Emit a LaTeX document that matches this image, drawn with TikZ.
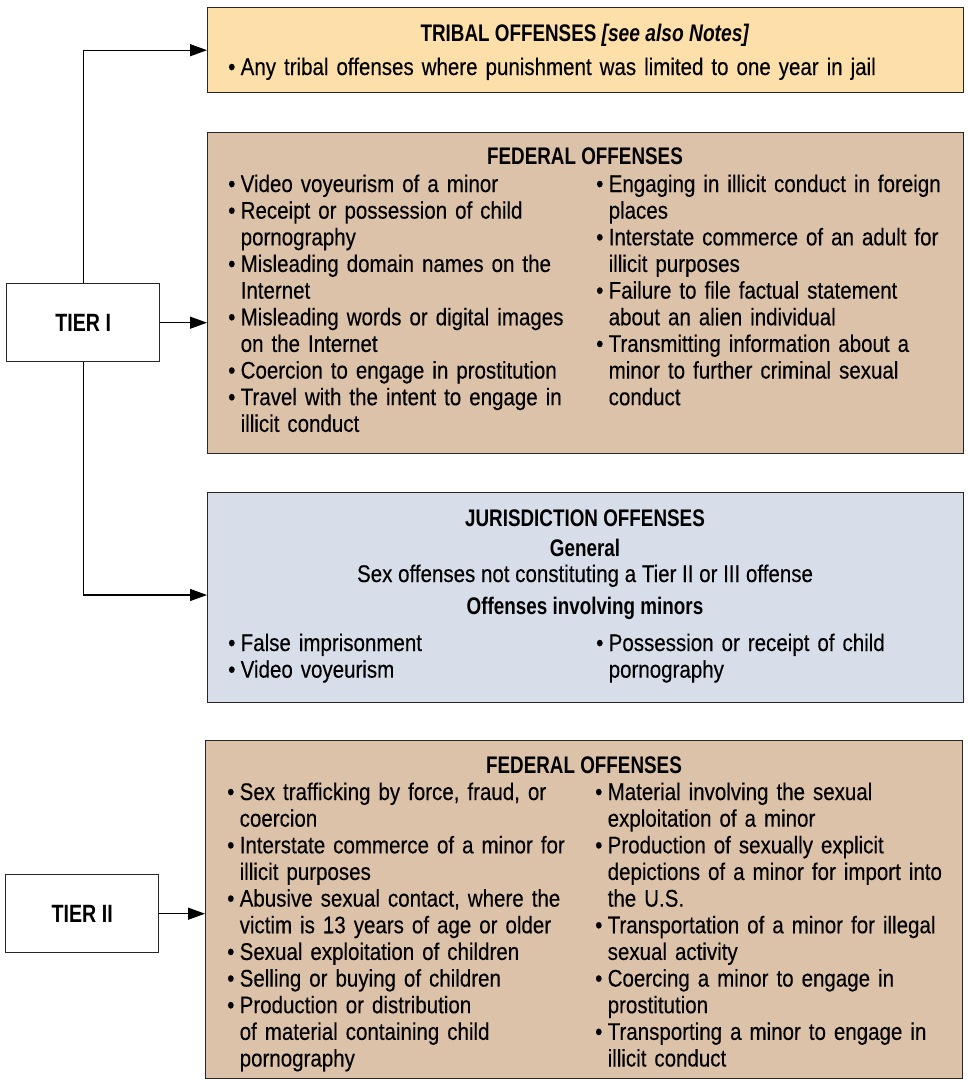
\documentclass[tikz,border=0pt]{standalone}
\usepackage{fontspec}
\setmainfont{Liberation Sans}[FakeStretch=0.855,
  UprightFeatures={FakeBold=0.25},
  BoldFeatures={FakeStretch=0.785},
  BoldItalicFeatures={FakeStretch=0.80}]
\usetikzlibrary{arrows.meta}
\definecolor{tribalfill}{HTML}{FDDFAA}
\definecolor{fedfill}{HTML}{DCC2A8}
\definecolor{jurfill}{HTML}{D8DDEA}
\definecolor{edgecol}{HTML}{262626}
\newcommand{\bodyfont}{\fontsize{24}{26.65}\selectfont}
\newcommand{\bl}{\makebox[12.5pt][l]{\textbullet}}
\newcommand{\ci}{\hspace*{12.5pt}}
\begin{document}
\begin{tikzpicture}[x=1pt,y=-1pt,
  panel/.style={draw=edgecol, line width=1.4pt, anchor=north west, inner sep=0pt},
  tierbox/.style={panel, fill=white, font=\fontsize{25}{28}\selectfont\bfseries},
  col/.style={anchor=base west, inner sep=0pt, text width=#1, align=left, font=\bodyfont},
  head/.style={anchor=base, inner sep=0pt, font=\bodyfont\bfseries},
  sub/.style={anchor=base, inner sep=0pt, font=\bodyfont},
  link/.style={line width=1.2pt, draw=black, -{Triangle[length=17pt,width=12pt]}},
]
\useasboundingbox (0,0) rectangle (968,1082);

% panels
\node[panel, fill=tribalfill, minimum width=756pt, minimum height=85pt] (tribal) at (207,7) {};
\node[panel, fill=fedfill, minimum width=756pt, minimum height=321pt] (fed1) at (207,132) {};
\node[panel, fill=jurfill, minimum width=756pt, minimum height=210pt] (juris) at (207,492) {};
\node[panel, fill=fedfill, minimum width=757pt, minimum height=338pt] (fed2) at (205,740) {};

% tier boxes
\node[tierbox, minimum width=153pt, minimum height=78pt] (tier1) at (6,283) {TIER I};
\node[tierbox, minimum width=153pt, minimum height=78pt] (tier2) at (5,874) {TIER II};

% connectors
\draw[link] (tier1.north) |- (tribal.west);
\draw[link] (tier1.east) -- (tier1.east -| fed1.west);
\draw[link] (tier1.south) |- (juris.west |- 0,595);
\draw[link] (tier2.east) -- (tier2.east -| fed2.west);

% tribal text
\node[head] (tribalhead) at (585,41) {TRIBAL OFFENSES \textit{[see also Notes]}};
\node[col=730pt] (tribaltext) at (228,75) {\bl Any tribal offenses where punishment was limited to one year in jail};

% federal I
\node[head] (fed1head) at (585,164) {FEDERAL OFFENSES};
\node[col=365pt] (fed1left) at (228,192) {\bl Video voyeurism of a minor\\
\bl Receipt or possession of child\\
\ci pornography\\
\bl Misleading domain names on the\\
\ci Internet\\
\bl Misleading words or digital images\\
\ci on the Internet\\
\bl Coercion to engage in prostitution\\
\bl Travel with the intent to engage in\\
\ci illicit conduct};
\node[col=365pt] (fed1right) at (596,192) {\bl Engaging in illicit conduct in foreign\\
\ci places\\
\bl Interstate commerce of an adult for\\
\ci illicit purposes\\
\bl Failure to file factual statement\\
\ci about an alien individual\\
\bl Transmitting information about a\\
\ci minor to further criminal sexual\\
\ci conduct};

% jurisdiction
\node[head] (jurhead) at (585,526) {JURISDICTION OFFENSES};
\node[head] (jurgen) at (585,556) {General};
\node[sub] (jurgentext) at (585,582) {Sex offenses not constituting a Tier II or III offense};
\node[head] (jurmin) at (585,614) {Offenses involving minors};
\node[col=365pt] (jurleft) at (228,651) {\bl False imprisonment\\
\bl Video voyeurism};
\node[col=365pt] (jurright) at (596,651) {\bl Possession or receipt of child\\
\ci pornography};

% federal II
\node[head] (fed2head) at (584,773) {FEDERAL OFFENSES};
\node[col=365pt] (fed2left) at (227,800) {\bl Sex trafficking by force, fraud, or\\
\ci coercion\\
\bl Interstate commerce of a minor for\\
\ci illicit purposes\\
\bl Abusive sexual contact, where the\\
\ci victim is 13 years of age or older\\
\bl Sexual exploitation of children\\
\bl Selling or buying of children\\
\bl Production or distribution\\
\ci of material containing child\\
\ci pornography};
\node[col=365pt] (fed2right) at (595,800) {\bl Material involving the sexual\\
\ci exploitation of a minor\\
\bl Production of sexually explicit\\
\ci depictions of a minor for import into\\
\ci the U.S.\\
\bl Transportation of a minor for illegal\\
\ci sexual activity\\
\bl Coercing a minor to engage in\\
\ci prostitution\\
\bl Transporting a minor to engage in\\
\ci illicit conduct};
\end{tikzpicture}
\end{document}
